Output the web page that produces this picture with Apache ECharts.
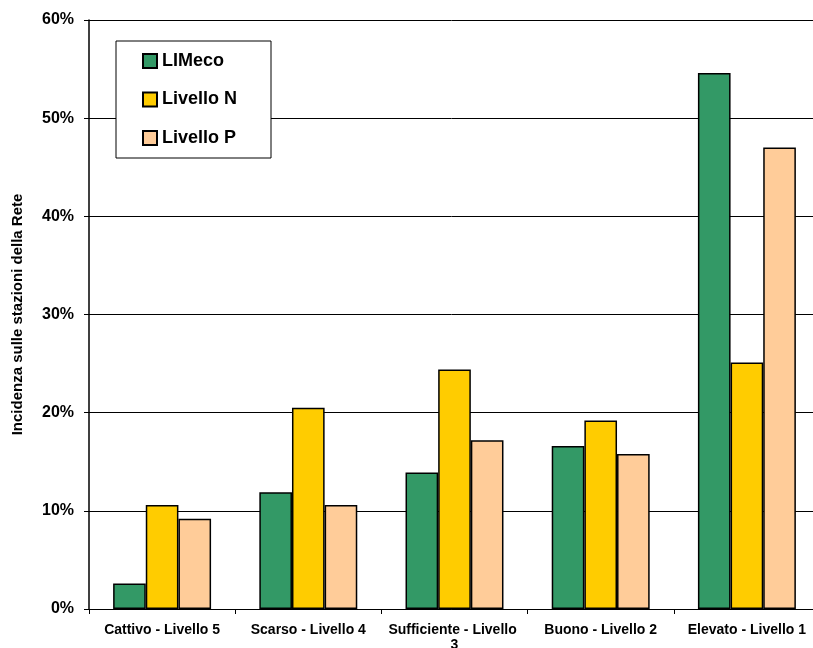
<!DOCTYPE html>
<html><head><meta charset="utf-8">
<script src="https://cdn.jsdelivr.net/npm/echarts@6/dist/echarts.min.js"></script>
<style>html,body{margin:0;padding:0;background:#fff}#c{width:813px;height:648px}</style>
</head><body><div id="c"></div>
<script>
const categories = ["Cattivo - Livello 5", "Scarso - Livello 4", "Sufficiente - Livello 3", "Buono - Livello 2", "Elevato - Livello 1"];
const limeco = [2.6, 11.9, 13.9, 16.6, 54.6];
const livelloN = [10.6, 20.5, 24.4, 19.2, 25.1];
const livelloP = [9.2, 10.6, 17.2, 15.8, 47.0];
const seriesNames = ["LIMeco", "Livello N", "Livello P"];
const colors = ["#339966", "#FFCC00", "#FFCC99"];

const chart = echarts.init(document.getElementById('c'), null, {renderer: 'canvas'});
const font = 'Arial, "Liberation Sans", sans-serif';
const mk = (name, data, color) => ({
  name, type: 'bar', data, barGap: '0%', barCategoryGap: '33%',
  itemStyle: {color, borderColor: '#000', borderWidth: 1.5},
  emphasis: {disabled: true}
});
chart.setOption({
  animation: false,
  grid: {left: 89, top: 20, bottom: 39, right: -7, containLabel: false, outerBoundsMode: 'none'},
  legend: {
    orient: 'vertical', left: 116, top: 41, icon: 'rect',
    padding: [11, 34, 11, 26], itemGap: 20.5, itemWidth: 14, itemHeight: 14, itemTextGap: 6,
    borderColor: '#000', borderWidth: 1, backgroundColor: '#fff',
    textStyle: {fontFamily: font, fontWeight: 'bold', fontSize: 18, color: '#000', lineHeight: 18},
    data: seriesNames
  },
  xAxis: {
    type: 'category', data: categories,
    axisLine: {lineStyle: {color: '#000', width: 1}},
    axisTick: {show: true, length: 5, lineStyle: {color: '#000'}},
    axisLabel: {fontFamily: font, fontWeight: 'bold', fontSize: 14, color: '#000', margin: 14,
      width: 136, overflow: 'break', interval: 0, lineHeight: 15}
  },
  yAxis: {
    type: 'value', min: 0, max: 60, interval: 10,
    name: 'Incidenza sulle stazioni della Rete', nameLocation: 'middle', nameGap: 64,
    nameTextStyle: {fontFamily: font, fontWeight: 'bold', fontSize: 15, color: '#000'},
    axisLine: {show: true, lineStyle: {color: '#000', width: 1.5}},
    axisTick: {show: true, length: 5, lineStyle: {color: '#000'}},
    splitLine: {lineStyle: {color: '#000', width: 1}},
    axisLabel: {fontFamily: font, fontWeight: 'bold', fontSize: 16, color: '#000', margin: 15,
      formatter: v => v + '%'}
  },
  series: [mk(seriesNames[0], limeco, colors[0]), mk(seriesNames[1], livelloN, colors[1]), mk(seriesNames[2], livelloP, colors[2])]
});
</script></body></html>
